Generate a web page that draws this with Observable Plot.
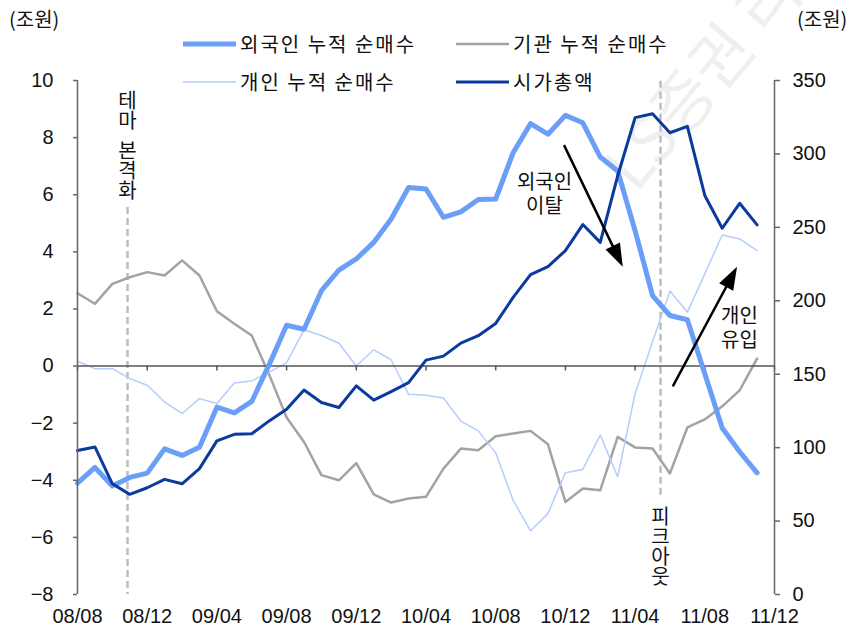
<!DOCTYPE html>
<html><head><meta charset="utf-8">
<script src="https://cdn.jsdelivr.net/npm/d3@7"></script>
<script src="https://cdn.jsdelivr.net/npm/@observablehq/plot@0.6"></script>
<style>
body{margin:0;background:#fff}
#wrap{position:relative;width:849px;height:627px;overflow:hidden;background:#fff}
.kr{position:absolute;font-family:"Noto Sans CJK KR","Noto Sans",sans-serif;font-size:20px;color:#111;white-space:nowrap;line-height:30px}
.leg{display:flex;align-items:center;height:30px;letter-spacing:2px}
.leg svg{margin-right:4px}
</style></head><body><div id="wrap"></div>
<script>
// month labels of the data points (08/08 .. 11/11)
const months = ["08/08","08/09","08/10","08/11","08/12","09/01","09/02","09/03","09/04","09/05","09/06","09/07","09/08","09/09","09/10","09/11","09/12","10/01","10/02","10/03","10/04","10/05","10/06","10/07","10/08","10/09","10/10","10/11","10/12","11/01","11/02","11/03","11/04","11/05","11/06","11/07","11/08","11/09","11/10","11/11"];
const tickLabels = ["08/08","08/12","09/04","09/08","09/12","10/04","10/08","10/12","11/04","11/08","11/12"];
// 외국인 누적 순매수 (조원, left)
const foreign = [-4.1,-3.55,-4.2,-3.9,-3.75,-2.9,-3.13,-2.84,-1.44,-1.64,-1.24,0.05,1.43,1.29,2.64,3.36,3.75,4.33,5.15,6.25,6.2,5.21,5.4,5.83,5.85,7.47,8.49,8.12,8.78,8.52,7.32,6.83,4.74,2.47,1.77,1.62,-0.27,-2.17,-3.0,-3.74];
// 기관 누적 순매수 (조원, left)
const inst = [2.55,2.18,2.88,3.11,3.29,3.17,3.7,3.17,1.92,1.48,1.07,-0.3,-1.8,-2.66,-3.82,-4.0,-3.4,-4.49,-4.78,-4.64,-4.58,-3.59,-2.89,-2.95,-2.46,-2.36,-2.27,-2.74,-4.76,-4.29,-4.35,-2.48,-2.85,-2.89,-3.76,-2.15,-1.87,-1.41,-0.85,0.26];
// 개인 누적 순매수 (조원, left)
const indiv = [0.17,-0.09,-0.09,-0.44,-0.67,-1.26,-1.66,-1.14,-1.31,-0.59,-0.52,-0.21,0.12,1.27,1.07,0.8,0.0,0.57,0.22,-0.99,-1.02,-1.12,-1.93,-2.27,-3.04,-4.7,-5.77,-5.16,-3.74,-3.62,-2.42,-3.88,-0.97,0.85,2.63,1.89,3.23,4.59,4.45,4.04];
// 시가총액 (조원, right)
const mcap = [98,100.5,75.4,68.2,72.7,78.4,75.4,85.7,104.6,109.1,109.5,118.2,126.2,139.2,130.7,127.3,142.1,132.3,138.2,144.3,159.6,162.3,171.2,176.2,184.6,202.3,217.8,223.3,234.2,251.9,239.8,285,324.7,327.4,314.4,318.8,271.7,249.4,266.4,251.7];
const leftTicks = [-8,-6,-4,-2,0,2,4,6,8,10];
const rightTicks = [0,50,100,150,200,250,300,350];
const seriesNames = ["외국인 누적 순매수","기관 누적 순매수","개인 누적 순매수","시가총액"];
const colors = ["#6b9ef7","#a3a3a3","#b4cdfd","#0b3a9e"];
const widths = [5,2.5,1.5,3];
// event lines (month index)
const eventX = [2.87, 33.46];
const eventY1 = [5.55, -4.52];
const eventY2 = [-8, 10];
// vertical event labels (words stacked)
const vLabels = ["테마", "본격화", "피크아웃"];
const vLabelX = [2.87, 2.87, 33.46];
const vLabelTop = [9.86, 8.12, -4.7];
// arrows (month index, left value)
const arrowsFrom = [[27.95,7.72],[34.19,-0.73]];
const arrowsTo = [[31.32,3.46],[37.88,3.46]];
const noteText = ["외국인\n이탈","개인\n유입"];
const notePos = [[26.8,6.8],[37.99,2.12]];

const R2L = r => -8 + r * 18 / 350;
const L2R = v => (v + 8) * 350 / 18;
const idx = d3.range(months.length);
const xTickIdx = tickLabels.map((_, i) => i * 4);
const numFont = '"Liberation Sans Narrow","Arial Narrow","Liberation Sans",sans-serif';
const krFont = '"Noto Sans CJK KR","Noto Sans",sans-serif';
const minus = d => d < 0 ? "\u2212" + (-d) : String(d);

const plot = Plot.plot({
  width: 849, height: 627,
  marginLeft: 77, marginRight: 75, marginTop: 80, marginBottom: 33,
  x: {domain: [0, 40], axis: null},
  y: {domain: [-8, 10], axis: null},
  style: {fontFamily: numFont, fontSize: "20px", color: "#111", background: "transparent"},
  marks: [
    Plot.ruleX(eventX, {x: d => d, y1: (d, i) => eventY1[i], y2: (d, i) => eventY2[i], stroke: "#bdbdbd", strokeWidth: 2.5, strokeDasharray: "7,4"}),
    Plot.line(idx, {x: i => i, y: i => inst[i], stroke: colors[1], strokeWidth: widths[1]}),
    Plot.line(idx, {x: i => i, y: i => indiv[i], stroke: colors[2], strokeWidth: widths[2]}),
    Plot.ruleY([0], {x1: 0, x2: 40, stroke: "#555", strokeWidth: 1.5}),
    Plot.ruleX(xTickIdx, {x: d => d, y1: 0, y2: -0.17, stroke: "#555", strokeWidth: 1.5}),
    Plot.line(idx, {x: i => i, y: i => foreign[i], stroke: colors[0], strokeWidth: widths[0]}),
    Plot.line(idx, {x: i => i, y: i => R2L(mcap[i]), stroke: colors[3], strokeWidth: widths[3]}),
    Plot.ruleX([0, 40], {y1: -8, y2: 10, stroke: "#666", strokeWidth: 1.5}),
    Plot.axisY(leftTicks, {anchor: "left", tickSize: 4, tickPadding: 20, tickFormat: minus, stroke: "#666", strokeWidth: 1.5, fontSize: 20}),
    Plot.axisY(rightTicks.map(R2L), {anchor: "right", tickSize: 5, tickPadding: 13, tickFormat: d => String(Math.round(L2R(d))), stroke: "#666", strokeWidth: 1.5, fontSize: 20}),
    Plot.axisX(xTickIdx, {anchor: "bottom", tickSize: 0, tickPadding: 14, tickFormat: d => tickLabels[d / 4], fontSize: 20}),
    Plot.text(vLabels, {x: (d, i) => vLabelX[i], y: (d, i) => vLabelTop[i], textAnchor: "start", fontFamily: krFont, fontSize: 20, fill: "#111"}),
    Plot.text(noteText, {x: (d, i) => notePos[i][0], y: (d, i) => notePos[i][1], lineAnchor: "top", lineHeight: 1.2, fontFamily: krFont, fontSize: 20, fill: "#111"})
  ]
});

const svg = d3.select(plot);
// vertical (upright stacked) event labels
svg.selectAll("text").filter(function () { return vLabels.includes(this.textContent); })
  .attr("dy", null)
  .style("writing-mode", "vertical-rl")
  .style("text-orientation", "upright")
  .style("letter-spacing", "0px");

const xs = plot.scale("x"), ys = plot.scale("y");
// arrows with filled heads
const g = svg.append("g");
arrowsFrom.forEach((f, k) => {
  const t = arrowsTo[k];
  const x1 = xs.apply(f[0]), y1 = ys.apply(f[1]), x2 = xs.apply(t[0]), y2 = ys.apply(t[1]);
  const dx = x2 - x1, dy = y2 - y1, L = Math.hypot(dx, dy), ux = dx / L, uy = dy / L;
  const hl = 23, hw = 8;
  const bx = x2 - ux * hl, by = y2 - uy * hl;
  g.append("line").attr("x1", x1).attr("y1", y1).attr("x2", bx + ux * 2).attr("y2", by + uy * 2).attr("stroke", "#000").attr("stroke-width", 2.5);
  g.append("path").attr("d", `M${x2},${y2}L${bx - uy * hw},${by + ux * hw}L${bx + uy * hw},${by - ux * hw}Z`).attr("fill", "#000");
});

const wrap = document.getElementById("wrap");
// watermark behind the chart
const wm = document.createElementNS("http://www.w3.org/2000/svg", "svg");
wm.setAttribute("width", 849); wm.setAttribute("height", 627);
wm.style.position = "absolute"; wm.style.left = "0"; wm.style.top = "0";
d3.select(wm).append("text").attr("transform", "translate(636,194) rotate(-50)")
  .attr("font-family", krFont).attr("font-size", 64).attr("fill", "#efefef").text("LS증권 리서치");
wrap.appendChild(wm);
plot.style.position = "absolute"; plot.style.left = "0"; plot.style.top = "0";
wrap.appendChild(plot);

// unit labels
const mk = (txt, left, top) => {
  const d = document.createElement("div");
  d.className = "kr"; d.style.left = left + "px"; d.style.top = top + "px";
  d.textContent = txt; wrap.appendChild(d); return d;
};
mk("(조원)", 9, 4);
mk("(조원)", 797, 4);
// legend
const legPos = [[183, 44], [456, 44], [183, 82], [456, 82]];
seriesNames.forEach((name, i) => {
  const d = document.createElement("div");
  d.className = "kr leg";
  d.style.left = legPos[i][0] + "px"; d.style.top = (legPos[i][1] - 15) + "px";
  d.innerHTML = `<svg width="53" height="10"><line x1="0" x2="53" y1="5" y2="5" stroke="${colors[i]}" stroke-width="${widths[i]}"/></svg><span>${name}</span>`;
  wrap.appendChild(d);
});
</script></body></html>
